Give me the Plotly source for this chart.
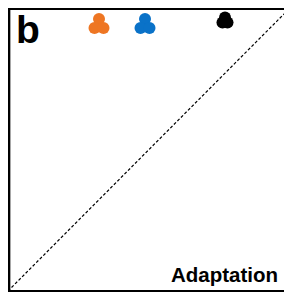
import plotly.graph_objects as go

# Marker clusters (axis fraction coordinates)
orange_x = [0.3227, 0.3067, 0.3387]
orange_y = [0.9611, 0.9293, 0.9293]
blue_x = [0.4858, 0.4699, 0.5018]
blue_y = [0.9611, 0.9293, 0.9293]
black_x = [0.7695, 0.7606, 0.7784]
black_y = [0.9664, 0.9488, 0.9488]
diag_x = [0, 1]
diag_y = [0, 1]

fig = go.Figure()
fig.add_trace(go.Scatter(x=diag_x, y=diag_y, mode="lines",
                         line=dict(color="black", width=1.2, dash="3px,2px"),
                         hoverinfo="skip", showlegend=False))
for xs, ys, c in [(orange_x, orange_y, "#EE7623"),
                  (blue_x, blue_y, "#0A72C8"),
                  (black_x, black_y, "#000000")]:
    fig.add_trace(go.Scatter(x=xs, y=ys, mode="markers",
                             marker=dict(color=c, size=12, line=dict(width=0)),
                             showlegend=False, cliponaxis=False))

fig.update_xaxes(range=[0, 1], showgrid=False, zeroline=False,
                 showticklabels=False, ticks="", showline=False)
fig.update_yaxes(range=[0, 1], showgrid=False, zeroline=False,
                 showticklabels=False, ticks="", showline=False)

fig.add_shape(type="line", xref="paper", yref="paper", x0=0.003, x1=0.003, y0=0, y1=1,
              line=dict(color="black", width=3))
fig.add_shape(type="line", xref="paper", yref="paper", x0=0, x1=1.02, y0=1, y1=1,
              line=dict(color="black", width=4))
fig.add_shape(type="line", xref="paper", yref="paper", x0=0, x1=1.02, y0=0, y1=0,
              line=dict(color="black", width=2))

fig.add_annotation(text="<b>b</b>", xref="paper", yref="paper", x=0.02, y=1.0,
                   xanchor="left", yanchor="top", showarrow=False, yshift=2,
                   font=dict(family="Liberation Sans, Arial", size=39, color="black"))
fig.add_annotation(text="<b>Adaptation</b>", xref="paper", yref="paper", x=0.966, y=0.0,
                   xanchor="right", yanchor="bottom", showarrow=False, yshift=3,
                   font=dict(family="Liberation Sans, Arial", size=20.5, color="black"))

fig.update_layout(width=284, height=286, paper_bgcolor="white", plot_bgcolor="white",
                  margin=dict(l=0, r=2, t=0, b=3))
fig.write_html("out.html")
